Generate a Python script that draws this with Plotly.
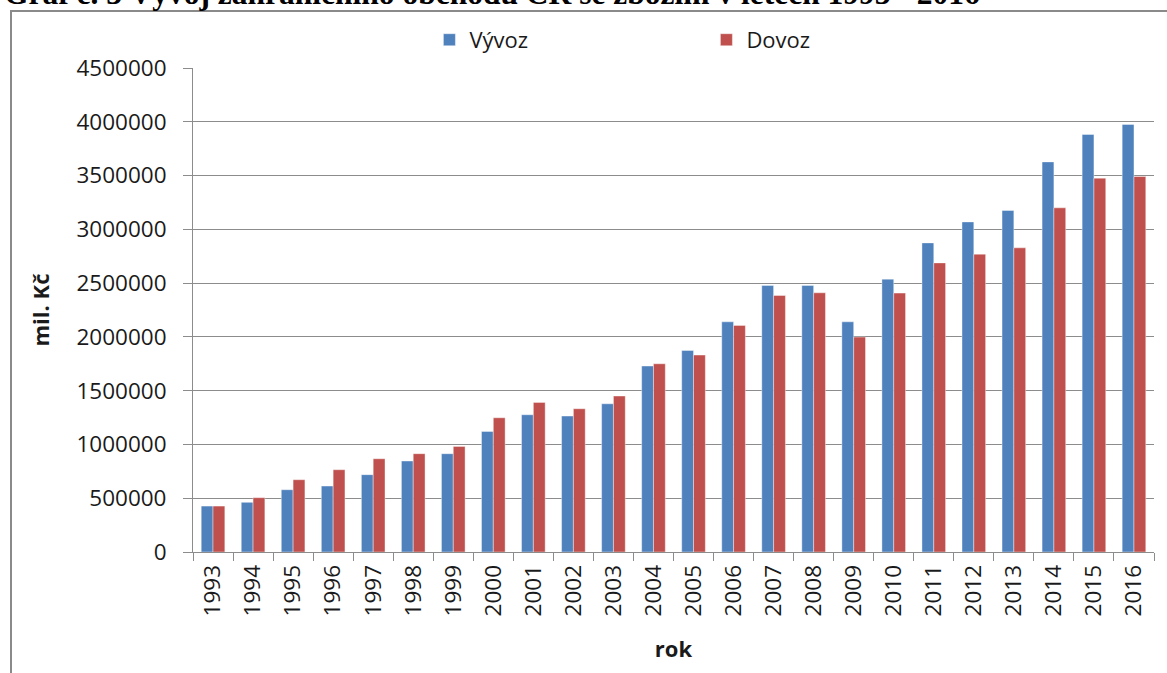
import plotly.graph_objects as go

# Data (mil. Kč)
years = [str(y) for y in range(1993, 2017)]
vyvoz = [427000, 462000, 579000, 613000, 719000, 846000, 914000, 1121000,
         1276000, 1264000, 1378000, 1729000, 1874000, 2140000, 2478000, 2478000,
         2140000, 2537000, 2874000, 3069000, 3175000, 3627000, 3882000, 3975000]
dovoz = [427000, 505000, 672000, 765000, 867000, 914000, 982000, 1248000,
         1391000, 1332000, 1450000, 1750000, 1831000, 2107000, 2385000, 2410000,
         1998000, 2407000, 2688000, 2769000, 2828000, 3200000, 3476000, 3491000]

FONT = "Open Sans"
GRID = "#8c8c8c"

fig = go.Figure()
fig.add_trace(go.Bar(x=years, y=vyvoz, name="Vývoz", marker_color="#4F81BD",
                     marker_line=dict(color="rgba(255,255,255,0.5)", width=0.8)))
fig.add_trace(go.Bar(x=years, y=dovoz, name="Dovoz", marker_color="#C0504D",
                     marker_line=dict(color="rgba(255,255,255,0.5)", width=0.8)))

fig.update_layout(
    width=1167, height=673,
    margin=dict(l=193, r=13, t=68, b=121),
    plot_bgcolor="white", paper_bgcolor="white",
    barmode="group", bargap=0.41, bargroupgap=0,
    font=dict(family=FONT, size=22, color="#1a1a1a"),
    showlegend=True,
    legend=dict(orientation="h", x=0.246, y=1.058, xanchor="left", yanchor="middle",
                entrywidth=232, entrywidthmode="pixels",
                font=dict(family=FONT, size=22, color="#1a1a1a"),
                bgcolor="rgba(0,0,0,0)"),
)

fig.update_xaxes(
    type="category", tickangle=-90, tickson="boundaries",
    ticks="outside", ticklen=8, tickcolor=GRID, tickwidth=1,
    showline=True, linecolor=GRID, linewidth=1, showgrid=False,
    tickfont=dict(family=FONT, size=22.5), ticklabelstandoff=3,
    title=dict(text="<b>rok</b>", font=dict(family=FONT, size=22), standoff=26),
)
fig.update_yaxes(
    range=[0, 4500000], dtick=500000, tickformat="d",
    ticks="outside", ticklen=9, tickcolor=GRID, tickwidth=1,
    showline=True, linecolor=GRID, linewidth=1,
    showgrid=True, gridcolor=GRID, gridwidth=1,
    tickfont=dict(family=FONT, size=22.5), ticklabelstandoff=12,
    title=dict(text="<b>mil. Kč</b>", font=dict(family=FONT, size=22), standoff=20),
)

# outer chart frame (partly cut off, as in the source)
fig.add_shape(type="rect", xref="paper", yref="paper",
              x0=(11 - 193) / 961, x1=1.2, y0=-0.5, y1=(552 - 11) / 484,
              line=dict(color="#8a8a8a", width=2), fillcolor="rgba(0,0,0,0)", layer="below")

# caption above the chart, clipped by the page top like in the source
fig.add_annotation(text="<b>Graf č. 3 Vývoj zahraničního obchodu ČR se zbožím v letech 1993 - 2016</b>",
                   xref="paper", yref="paper", x=(2 - 193) / 961, y=(552 + 7) / 484,
                   xanchor="left", yanchor="middle", showarrow=False,
                   font=dict(family="Liberation Serif", size=31.5, color="black"))

fig.write_html("out.html", config={"displayModeBar": False},
               post_script="document.body.style.margin='0';")
